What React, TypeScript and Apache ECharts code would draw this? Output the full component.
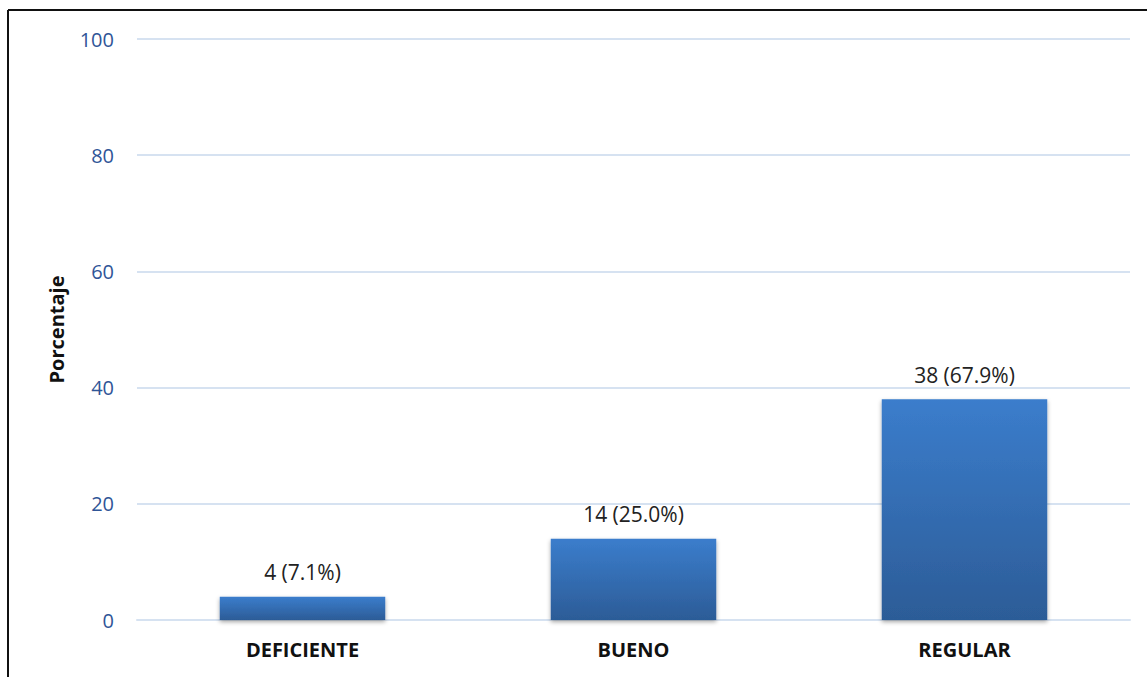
import React, { useEffect, useRef } from "react";
import * as echarts from "echarts";

const categories = ["DEFICIENTE", "BUENO", "REGULAR"];
const counts = [4, 14, 38];
const percents = ["7.1", "25.0", "67.9"];
const yTicks = [0, 20, 40, 60, 80, 100];

export default function App() {
  const ref = useRef<HTMLDivElement>(null);
  useEffect(() => {
    document.body.style.margin = "0";
    document.body.style.overflow = "hidden";
    const chart = echarts.init(ref.current!, null, { renderer: "svg" });
    chart.setOption({
      animation: false,
      backgroundColor: "#ffffff",
      grid: { left: 137, right: 17, top: 39, bottom: 57 },
      graphic: [
        { type: "line", shape: { x1: 8, y1: 10, x2: 1147, y2: 10 }, style: { stroke: "#111", lineWidth: 2 } },
        { type: "line", shape: { x1: 8, y1: 10, x2: 8, y2: 677 }, style: { stroke: "#111", lineWidth: 2 } },
      ],
      xAxis: {
        type: "category",
        data: categories,
        axisLine: { show: true, lineStyle: { color: "#D6E2F1", width: 2 } },
        axisTick: { show: false },
        axisLabel: {
          color: "#111",
          fontWeight: "bold",
          fontSize: 20,
          fontFamily: "Open Sans",
          margin: 19,
        },
      },
      yAxis: {
        type: "value",
        min: 0,
        max: 100,
        interval: 20,
        name: "Porcentaje",
        nameLocation: "middle",
        nameGap: 71,
        nameRotate: 90,
        nameTextStyle: { color: "#111", fontWeight: "bold", fontSize: 20, fontFamily: "Open Sans" },
        axisLine: { show: false },
        axisTick: { show: false },
        axisLabel: {
          color: "#2F5597",
          fontSize: 20,
          fontFamily: "Open Sans",
          margin: 23,
          formatter: (v: number) => (yTicks.includes(v) ? String(v) : ""),
        },
        splitLine: { lineStyle: { color: "#D6E2F1", width: 2 } },
      },
      series: [
        {
          type: "bar",
          data: counts,
          barWidth: "50%",
          itemStyle: {
            color: new echarts.graphic.LinearGradient(0, 0, 0, 1, [
              { offset: 0, color: "#3B7DCC" },
              { offset: 1, color: "#2C5C97" },
            ]),
            shadowColor: "rgba(0,0,0,0.35)",
            shadowBlur: 4,
            shadowOffsetY: 2,
          },
          label: {
            show: true,
            position: "top",
            distance: 14,
            color: "#222",
            fontSize: 21,
            fontFamily: "Open Sans",
            formatter: (p: any) => `${counts[p.dataIndex]} (${percents[p.dataIndex]}%)`,
          },
        },
      ],
    });
    return () => chart.dispose();
  }, []);
  return <div ref={ref} style={{ width: 1147, height: 677 }} />;
}
